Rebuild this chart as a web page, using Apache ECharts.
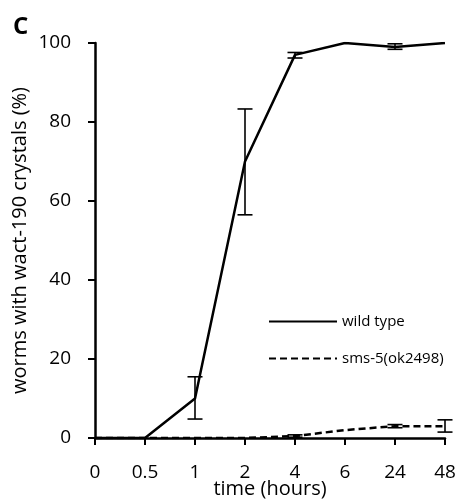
<!DOCTYPE html>
<html>
<head>
<meta charset="utf-8">
<script src="https://cdn.jsdelivr.net/npm/echarts@6/dist/echarts.min.js"></script>
<style>
  html, body { margin: 0; padding: 0; background: #fff; }
  #chart { width: 460px; height: 502px; }
</style>
</head>
<body>
<div id="chart"></div>
<script>
// time points (hours)
const hours = ['0', '0.5', '1', '2', '4', '6', '24', '48'];

// wild type
const wtMean = [0, 0, 10, 70, 97, 100, 99, 100];
const wtLow = [0, 0, 4.8, 56.5, 96.2, 100, 98.4, 100];
const wtHigh = [0, 0, 15.5, 83.3, 97.6, 100, 99.8, 100];

// sms-5(ok2498)
const smsMean = [0, 0, 0, 0, 0.5, 2, 3, 3];
const smsLow = [0, 0, 0, 0, 0.2, 2, 2.6, 1.5];
const smsHigh = [0, 0, 0, 0, 0.8, 2, 3.4, 4.6];

const font = '"Open Sans", Lato, sans-serif';

const errData = (lo, hi) => hours.map((h, i) => [i, lo[i], hi[i]]).filter(d => d[2] - d[1] > 0.25);

const renderErr = (params, api) => {
  const x = api.value(0);
  const lo = api.coord([x, api.value(1)]);
  const hi = api.coord([x, api.value(2)]);
  const w = 7.5;
  const style = { stroke: '#000', lineWidth: 1.6 };
  return {
    type: 'group',
    children: [
      { type: 'line', shape: { x1: lo[0], y1: lo[1], x2: hi[0], y2: hi[1] }, style },
      { type: 'line', shape: { x1: lo[0] - w, y1: lo[1], x2: lo[0] + w, y2: lo[1] }, style },
      { type: 'line', shape: { x1: hi[0] - w, y1: hi[1], x2: hi[0] + w, y2: hi[1] }, style }
    ]
  };
};

const chart = echarts.init(document.getElementById('chart'));
const option = {
  animation: false,
  backgroundColor: '#fff',
  textStyle: { fontFamily: font, color: '#000' },
  title: {
    text: 'C',
    left: 8,
    top: 10,
    textStyle: { fontFamily: font, fontSize: 24, fontWeight: 'bold', color: '#000' }
  },
  grid: { left: 95, right: 15, top: 43, bottom: 64, containLabel: false, outerBoundsMode: 'none' },
  legend: {
    orient: 'vertical',
    left: 268,
    top: 314,
    padding: 0,
    itemWidth: 68,
    itemHeight: 14,
    itemGap: 22,
    itemStyle: { opacity: 0 },
    textStyle: { fontFamily: font, fontSize: 15, color: '#000' },
    data: ['wild type', 'sms-5(ok2498)']
  },
  xAxis: {
    type: 'category',
    data: hours,
    boundaryGap: false,
    name: 'time (hours)',
    nameLocation: 'middle',
    nameGap: 41,
    nameMoveOverlap: false,
    nameTextStyle: { fontFamily: font, fontSize: 20, color: '#000' },
    axisLine: { lineStyle: { color: '#000', width: 2.5 } },
    axisTick: { alignWithLabel: true, length: 7, lineStyle: { color: '#000', width: 2 } },
    axisLabel: { fontFamily: font, fontSize: 19, color: '#000', margin: 25 }
  },
  yAxis: {
    type: 'value',
    min: 0,
    max: 100,
    interval: 20,
    name: 'worms with wact-190 crystals (%)',
    nameLocation: 'middle',
    nameGap: 65,
    nameMoveOverlap: false,
    nameTextStyle: { fontFamily: font, fontSize: 20, color: '#000' },
    splitLine: { show: false },
    axisLine: { show: true, lineStyle: { color: '#000', width: 2.5 } },
    axisTick: { show: true, length: 7, lineStyle: { color: '#000', width: 2 } },
    axisLabel: { fontFamily: font, fontSize: 19, color: '#000', margin: 24 }
  },
  series: [
    {
      name: 'wild type',
      type: 'line',
      data: wtMean,
      symbol: 'none',
      color: '#000',
      lineStyle: { color: '#000', width: 2.5 },
      z: 3
    },
    {
      name: 'sms-5(ok2498)',
      type: 'line',
      data: smsMean,
      symbol: 'none',
      color: '#000',
      lineStyle: { color: '#000', width: 2.5, type: [7, 4] },
      z: 3
    },
    {
      type: 'custom',
      renderItem: renderErr,
      data: errData(wtLow, wtHigh),
      encode: { x: 0, y: [1, 2] },
      z: 4
    },
    {
      type: 'custom',
      renderItem: renderErr,
      data: errData(smsLow, smsHigh),
      encode: { x: 0, y: [1, 2] },
      z: 4
    }
  ]
};
chart.setOption(option);
</script>
</body>
</html>
